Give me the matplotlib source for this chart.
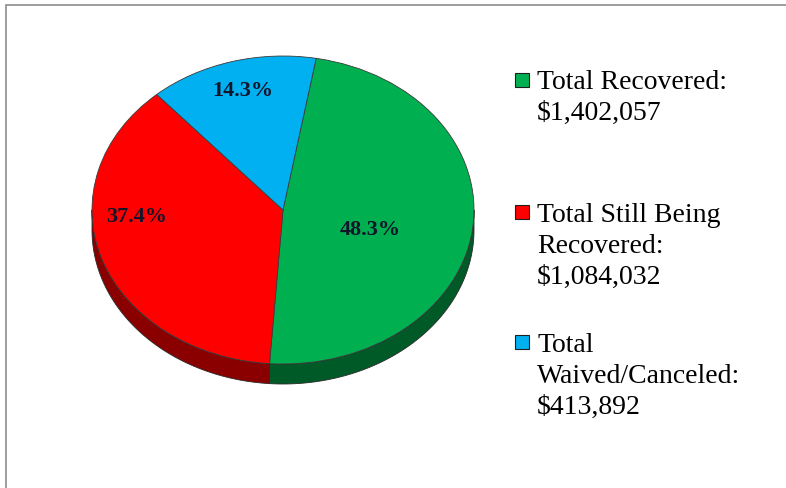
import numpy as np
import matplotlib.pyplot as plt
from matplotlib.patches import Rectangle, Polygon

# Datos del grafico
categorias = ["Total Recovered", "Total Still Being\nRecovered", "Total\nWaived/Canceled"]
montos = [1402057, 1084032, 413892]
colores = ["#00b050", "#ff0000", "#00b0f0"]
colores_lado = ["#005a28", "#8a0000", "#006f99"]

# Posicion de los porcentajes dentro del pie (unidades del pie)
pos_etiquetas = [(0.455, -0.13), (-0.764, -0.045), (-0.209, 0.773)]

W, H = 786, 488
fig = plt.figure(figsize=(W / 100, H / 100), dpi=100)
fig.patch.set_facecolor("white")

# Geometria del pie en pixeles: centro, radios y grosor del lado
cx, cy = 283, 210
rx, ry = 191, 154
prof = 20 / ry

ax = fig.add_axes([(cx - rx) / W, (H - (cy + ry + 20)) / H,
                   2 * rx / W, (2 * ry + 20) / H])

wedges, texts, autotexts = ax.pie(
    montos, colors=colores, startangle=80, counterclock=False,
    autopct="%.1f%%",
    wedgeprops=dict(edgecolor="#3a3a3a", linewidth=0.6),
    textprops=dict(family="Liberation Serif", fontsize=16,
                   fontweight="bold", color="#14142a"))
ax.set_aspect("auto")
ax.set_xlim(-1, 1)
ax.set_ylim(-1 - prof, 1)
ax.axis("off")

for t, p in zip(autotexts, pos_etiquetas):
    t.set_position(p)
    t.set_zorder(5)

# Lado del pie (solo la mitad de abajo es visible)
for w, c in zip(wedges, colores_lado):
    for shift in (-360, 0, 360):
        a = max(w.theta1 + shift, -180)
        b = min(w.theta2 + shift, 0)
        if a >= b:
            continue
        ang = np.radians(np.linspace(a, b, 100))
        arriba = np.column_stack([np.cos(ang), np.sin(ang)])
        abajo = np.column_stack([np.cos(ang[::-1]), np.sin(ang[::-1]) - prof])
        ax.add_patch(Polygon(np.vstack([arriba, abajo]), closed=True,
                             facecolor=c, edgecolor="#2a2a2a",
                             linewidth=0.6, zorder=0.5, clip_on=False))

# Leyenda manual (y = centro del cuadrado, y del tope del texto)
leg_y = [80, 212, 342]
leg_top = [70, 203, 333]
for nombre, monto, col, y, yt in zip(categorias, montos, colores, leg_y, leg_top):
    fig.add_artist(Rectangle((515 / W, (H - y - 7) / H), 14 / W, 14 / H,
                             transform=fig.transFigure, facecolor=col,
                             edgecolor="#202020", linewidth=0.8))
    fig.text(537 / W, (H - yt) / H, f"{nombre}:\n${monto:,}",
             family="Liberation Serif", fontsize=20, va="top", ha="left",
             linespacing=1.31, color="black")

# Borde gris arriba y a la izquierda
fig.add_artist(Rectangle((6 / W, -0.1), 1.0, (H - 5) / H + 0.1,
                         transform=fig.transFigure, fill=False,
                         edgecolor="#8c8c8c", linewidth=1.2))

fig.savefig("out.png", dpi=100, facecolor="white")
